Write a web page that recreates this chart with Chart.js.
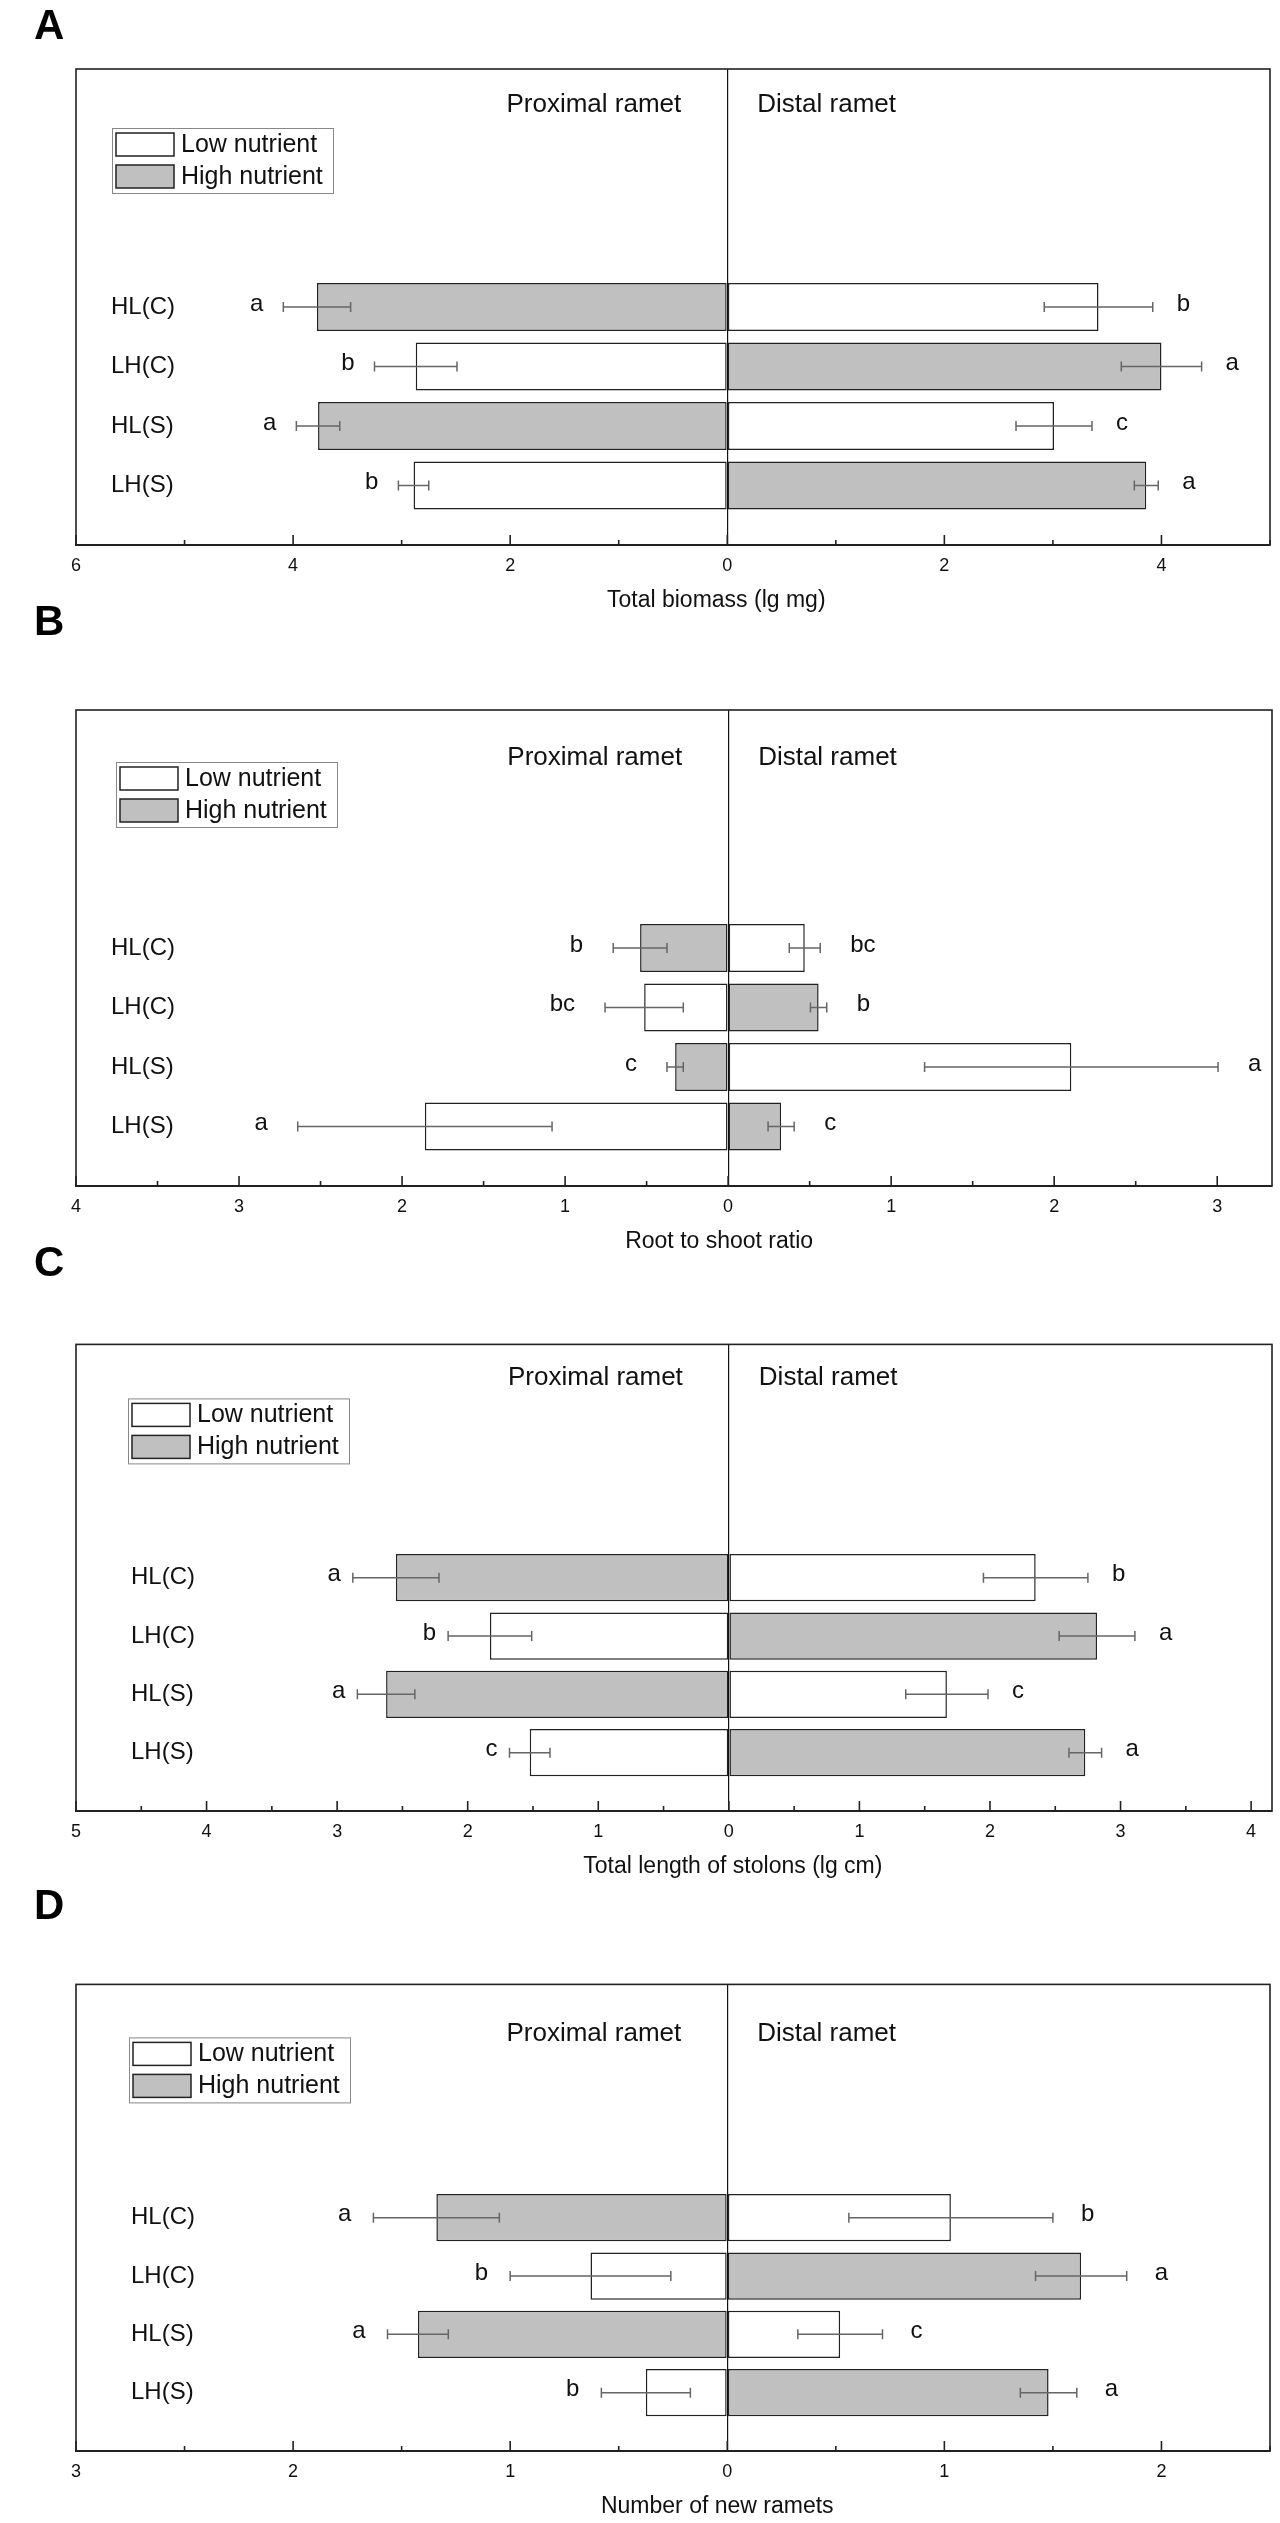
<!DOCTYPE html>
<html lang="en">
<head>
  <meta charset="UTF-8">
  <title>Proximal and distal ramet responses</title>
  <script src="https://cdn.jsdelivr.net/npm/chart.js"></script>
  <style>
    html, body { margin: 0; padding: 0; background: #fff; }
    body { width: 1280px; height: 2523px; position: relative; overflow: hidden; font-family: 'Liberation Sans', Arial, sans-serif; }
    .panel { position: absolute; left: 0; width: 1280px; height: 608px; }
    .tag { position: absolute; left: 34px; font: bold 42px/42px 'Liberation Sans', Arial, sans-serif; color: #000; z-index: 2; }
  </style>
</head>
<body>
  <div class="tag" style="top:4px">A</div>
  <div class="tag" style="top:600px">B</div>
  <div class="tag" style="top:1241px">C</div>
  <div class="tag" style="top:1884px">D</div>

  <div class="panel" style="top:9px"><canvas id="chartA" width="1280" height="608"></canvas></div>
  <div class="panel" style="top:650px"><canvas id="chartB" width="1280" height="608"></canvas></div>
  <div class="panel" style="top:1275px"><canvas id="chartC" width="1280" height="608"></canvas></div>
  <div class="panel" style="top:1915px"><canvas id="chartD" width="1280" height="608"></canvas></div>

  <script>
    const groups = ['HL(C)', 'LH(C)', 'HL(S)', 'LH(S)'];

    // A - total biomass (lg mg)
    const biomassProx = [3.78, 2.87, 3.77, 2.89];
    const biomassProxSE = [0.31, 0.38, 0.20, 0.14];
    const biomassDist = [3.42, 4.00, 3.01, 3.86];
    const biomassDistSE = [0.50, 0.37, 0.35, 0.11];
    const biomassProxSig = ['a', 'b', 'a', 'b'];
    const biomassDistSig = ['b', 'a', 'c', 'a'];

    // B - root to shoot ratio
    const rootShootProx = [0.54, 0.515, 0.325, 1.86];
    const rootShootProxSE = [0.165, 0.24, 0.05, 0.78];
    const rootShootDist = [0.47, 0.555, 2.105, 0.325];
    const rootShootDistSE = [0.095, 0.05, 0.90, 0.08];
    const rootShootProxSig = ['b', 'bc', 'c', 'a'];
    const rootShootDistSig = ['bc', 'b', 'a', 'c'];

    // C - total length of stolons (lg cm)
    const stolonProx = [2.55, 1.83, 2.625, 1.525];
    const stolonProxSE = [0.33, 0.32, 0.22, 0.155];
    const stolonDist = [2.35, 2.82, 1.67, 2.73];
    const stolonDistSE = [0.40, 0.29, 0.315, 0.125];
    const stolonProxSig = ['a', 'b', 'a', 'c'];
    const stolonDistSig = ['b', 'a', 'c', 'a'];

    // D - number of new ramets
    const newRametProx = [1.34, 0.63, 1.425, 0.375];
    const newRametProxSE = [0.29, 0.37, 0.14, 0.205];
    const newRametDist = [1.03, 1.63, 0.52, 1.48];
    const newRametDistSE = [0.47, 0.21, 0.195, 0.13];
    const newRametProxSig = ['a', 'b', 'a', 'b'];
    const newRametDistSig = ['b', 'a', 'c', 'a'];

    const FONT = "'Liberation Sans', Arial, sans-serif";
    Chart.defaults.font.family = FONT;
    Chart.defaults.color = '#111';

    // four empty rows on top (legend room), one below
    const pad = arr => [null, null, null, null, ...arr, null];
    const rowLabels = pad(groups).map(g => g || '');

    // HL = high nutrient on the proximal ramet, low on the distal one; LH the other way
    function pick(nutrient, prox, dist, signed) {
      return groups.map((g, i) => {
        const proxIsHigh = g[0] === 'H';
        const onProx = (nutrient === 'high') === proxIsHigh;
        if (onProx) return signed ? -prox[i] : prox[i];
        return dist[i];
      });
    }

    const rametDecor = {
      id: 'ramets',
      afterDatasetsDraw(chart, args, opts) {
        const { ctx } = chart;
        const x = chart.scales.x;
        ctx.save();
        chart.data.datasets.forEach((ds, di) => {
          const meta = chart.getDatasetMeta(di);
          meta.data.forEach((bar, i) => {
            const v = ds.data[i];
            if (v == null) return;
            const e = ds.errors[i];
            const x1 = x.getPixelForValue(v - e);
            const x2 = x.getPixelForValue(v + e);
            const y = bar.y;
            ctx.strokeStyle = '#666';
            ctx.lineWidth = 1.5;
            ctx.beginPath();
            ctx.moveTo(x1, y); ctx.lineTo(x2, y);
            ctx.moveTo(x1, y - 5); ctx.lineTo(x1, y + 5);
            ctx.moveTo(x2, y - 5); ctx.lineTo(x2, y + 5);
            ctx.stroke();

            ctx.fillStyle = '#111';
            ctx.font = '24px ' + FONT;
            ctx.textBaseline = 'middle';
            if (v < 0) {
              ctx.textAlign = 'right';
              ctx.fillText(ds.sig[i], Math.min(x1, x2) - opts.gap[0], y - 3);
            } else {
              ctx.textAlign = 'left';
              ctx.fillText(ds.sig[i], Math.max(x1, x2) + opts.gap[1], y - 3);
            }
          });
        });
        ctx.restore();
      },
      afterDraw(chart, args, opts) {
        const { ctx, chartArea: area } = chart;
        const x = chart.scales.x;
        const zero = x.getPixelForValue(0);
        ctx.save();

        // frame
        ctx.strokeStyle = '#222';
        ctx.lineWidth = 1.6;
        ctx.strokeRect(area.left, area.top, area.width, area.height);

        // inward ticks
        ctx.beginPath();
        x.ticks.forEach(t => {
          const v = t.value;
          if (Math.abs(v * 2 - Math.round(v * 2)) > 1e-6) return;
          const whole = Math.abs(v - Math.round(v)) < 1e-6;
          const major = whole && Math.abs(Math.round(v)) % opts.labelEvery === 0;
          const px = x.getPixelForValue(v);
          ctx.moveTo(px, area.bottom);
          ctx.lineTo(px, area.bottom - (major ? 10 : 5));
        });
        ctx.stroke();

        // side headings
        ctx.fillStyle = '#111';
        ctx.font = '26px ' + FONT;
        ctx.textBaseline = 'alphabetic';
        ctx.textAlign = 'right';
        ctx.fillText('Proximal ramet', zero - 46, area.top + opts.headY);
        ctx.textAlign = 'left';
        ctx.fillText('Distal ramet', zero + 30, area.top + opts.headY);

        // legend box
        const lx = area.left + opts.legend[0];
        const ly = area.top + opts.legend[1];
        ctx.strokeStyle = '#888';
        ctx.lineWidth = 1;
        ctx.strokeRect(lx + 0.5, ly + 0.5, 221, 65);
        ctx.font = '25px ' + FONT;
        ctx.textBaseline = 'middle';
        ctx.textAlign = 'left';
        chart.data.datasets.forEach((ds, i) => {
          const ry = ly + 5 + i * 32;
          ctx.fillStyle = ds.backgroundColor;
          ctx.fillRect(lx + 4, ry, 58, 23);
          ctx.strokeStyle = '#222';
          ctx.lineWidth = 1.5;
          ctx.strokeRect(lx + 4, ry, 58, 23);
          ctx.fillStyle = '#111';
          ctx.fillText(ds.label, lx + 69, ry + 12);
        });

        // axis title
        ctx.font = '23px ' + FONT;
        ctx.textAlign = 'center';
        ctx.textBaseline = 'middle';
        ctx.fillText(opts.title, zero + opts.titleShift, area.bottom + 56);
        ctx.restore();
      }
    };
    Chart.register(rametDecor);

    function buildPanel(id, p) {
      const lowVals = pick('low', p.prox, p.dist, true);
      const highVals = pick('high', p.prox, p.dist, true);
      const bar = {
        borderColor: '#222',
        borderWidth: 1.5,
        borderSkipped: false,
        categoryPercentage: 0.81,
        barPercentage: 1
      };
      return new Chart(document.getElementById(id), {
        type: 'bar',
        data: {
          labels: rowLabels,
          datasets: [
            Object.assign({
              label: 'Low nutrient',
              data: pad(lowVals),
              errors: pad(pick('low', p.proxSE, p.distSE, false)),
              sig: pad(pick('low', p.proxSig, p.distSig, false)),
              backgroundColor: '#ffffff'
            }, bar),
            Object.assign({
              label: 'High nutrient',
              data: pad(highVals),
              errors: pad(pick('high', p.proxSE, p.distSE, false)),
              sig: pad(pick('high', p.proxSig, p.distSig, false)),
              backgroundColor: '#c0c0c0'
            }, bar)
          ]
        },
        options: {
          indexAxis: 'y',
          responsive: false,
          animation: false,
          events: [],
          layout: { padding: { top: 60, left: 76, right: 8, bottom: 0 } },
          plugins: {
            legend: { display: false },
            tooltip: { enabled: false },
            ramets: {
              title: p.title,
              titleShift: p.titleShift,
              labelEvery: p.labelEvery,
              headY: p.headY,
              legend: p.legend,
              gap: p.gap
            }
          },
          scales: {
            x: {
              type: 'linear',
              min: p.min,
              max: p.max,
              stacked: true,
              afterFit: s => { s.height = 72; },
              border: { display: true, color: '#222', width: 2 },
              grid: {
                drawTicks: false,
                lineWidth: 1.2,
                color: c => (c.tick && c.tick.value === 0 ? '#111' : 'rgba(0,0,0,0)')
              },
              ticks: {
                stepSize: p.step,
                includeBounds: false,
                autoSkip: false,
                maxRotation: 0,
                minRotation: 0,
                padding: 10,
                color: '#111',
                font: { size: 18 },
                callback: v => {
                  const r = Math.round(v);
                  if (Math.abs(v - r) > 1e-6 || r % p.labelEvery !== 0) return '';
                  return String(Math.abs(r));
                }
              }
            },
            y: {
              type: 'category',
              stacked: true,
              offset: false,
              afterFit: s => { s.width = 0; },
              border: { display: false },
              grid: { display: false },
              ticks: { mirror: true, padding: p.labelPad, autoSkip: false, color: '#111', font: { size: 24 } }
            }
          }
        }
      });
    }

    buildPanel('chartA', {
      prox: biomassProx, proxSE: biomassProxSE, dist: biomassDist, distSE: biomassDistSE,
      proxSig: biomassProxSig, distSig: biomassDistSig,
      min: -6, max: 5, step: 1, labelEvery: 2,
      title: 'Total biomass (lg mg)', titleShift: -11,
      headY: 43, legend: [36, 59], gap: [20, 24], labelPad: 35
    });
    buildPanel('chartB', {
      prox: rootShootProx, proxSE: rootShootProxSE, dist: rootShootDist, distSE: rootShootDistSE,
      proxSig: rootShootProxSig, distSig: rootShootDistSig,
      min: -4, max: 3.336, step: 0.5, labelEvery: 1,
      title: 'Root to shoot ratio', titleShift: -9,
      headY: 55, legend: [40, 52], gap: [30, 30], labelPad: 35
    });
    buildPanel('chartC', {
      prox: stolonProx, proxSE: stolonProxSE, dist: stolonDist, distSE: stolonDistSE,
      proxSig: stolonProxSig, distSig: stolonDistSig,
      min: -5, max: 4.16, step: 0.5, labelEvery: 1,
      title: 'Total length of stolons (lg cm)', titleShift: 4,
      headY: 41, legend: [52, 54], gap: [12, 24], labelPad: 55
    });
    buildPanel('chartD', {
      prox: newRametProx, proxSE: newRametProxSE, dist: newRametDist, distSE: newRametDistSE,
      proxSig: newRametProxSig, distSig: newRametDistSig,
      min: -3, max: 2.5, step: 0.5, labelEvery: 1,
      title: 'Number of new ramets', titleShift: -10,
      headY: 57, legend: [53, 53], gap: [22, 28], labelPad: 55
    });
  </script>
</body>
</html>
